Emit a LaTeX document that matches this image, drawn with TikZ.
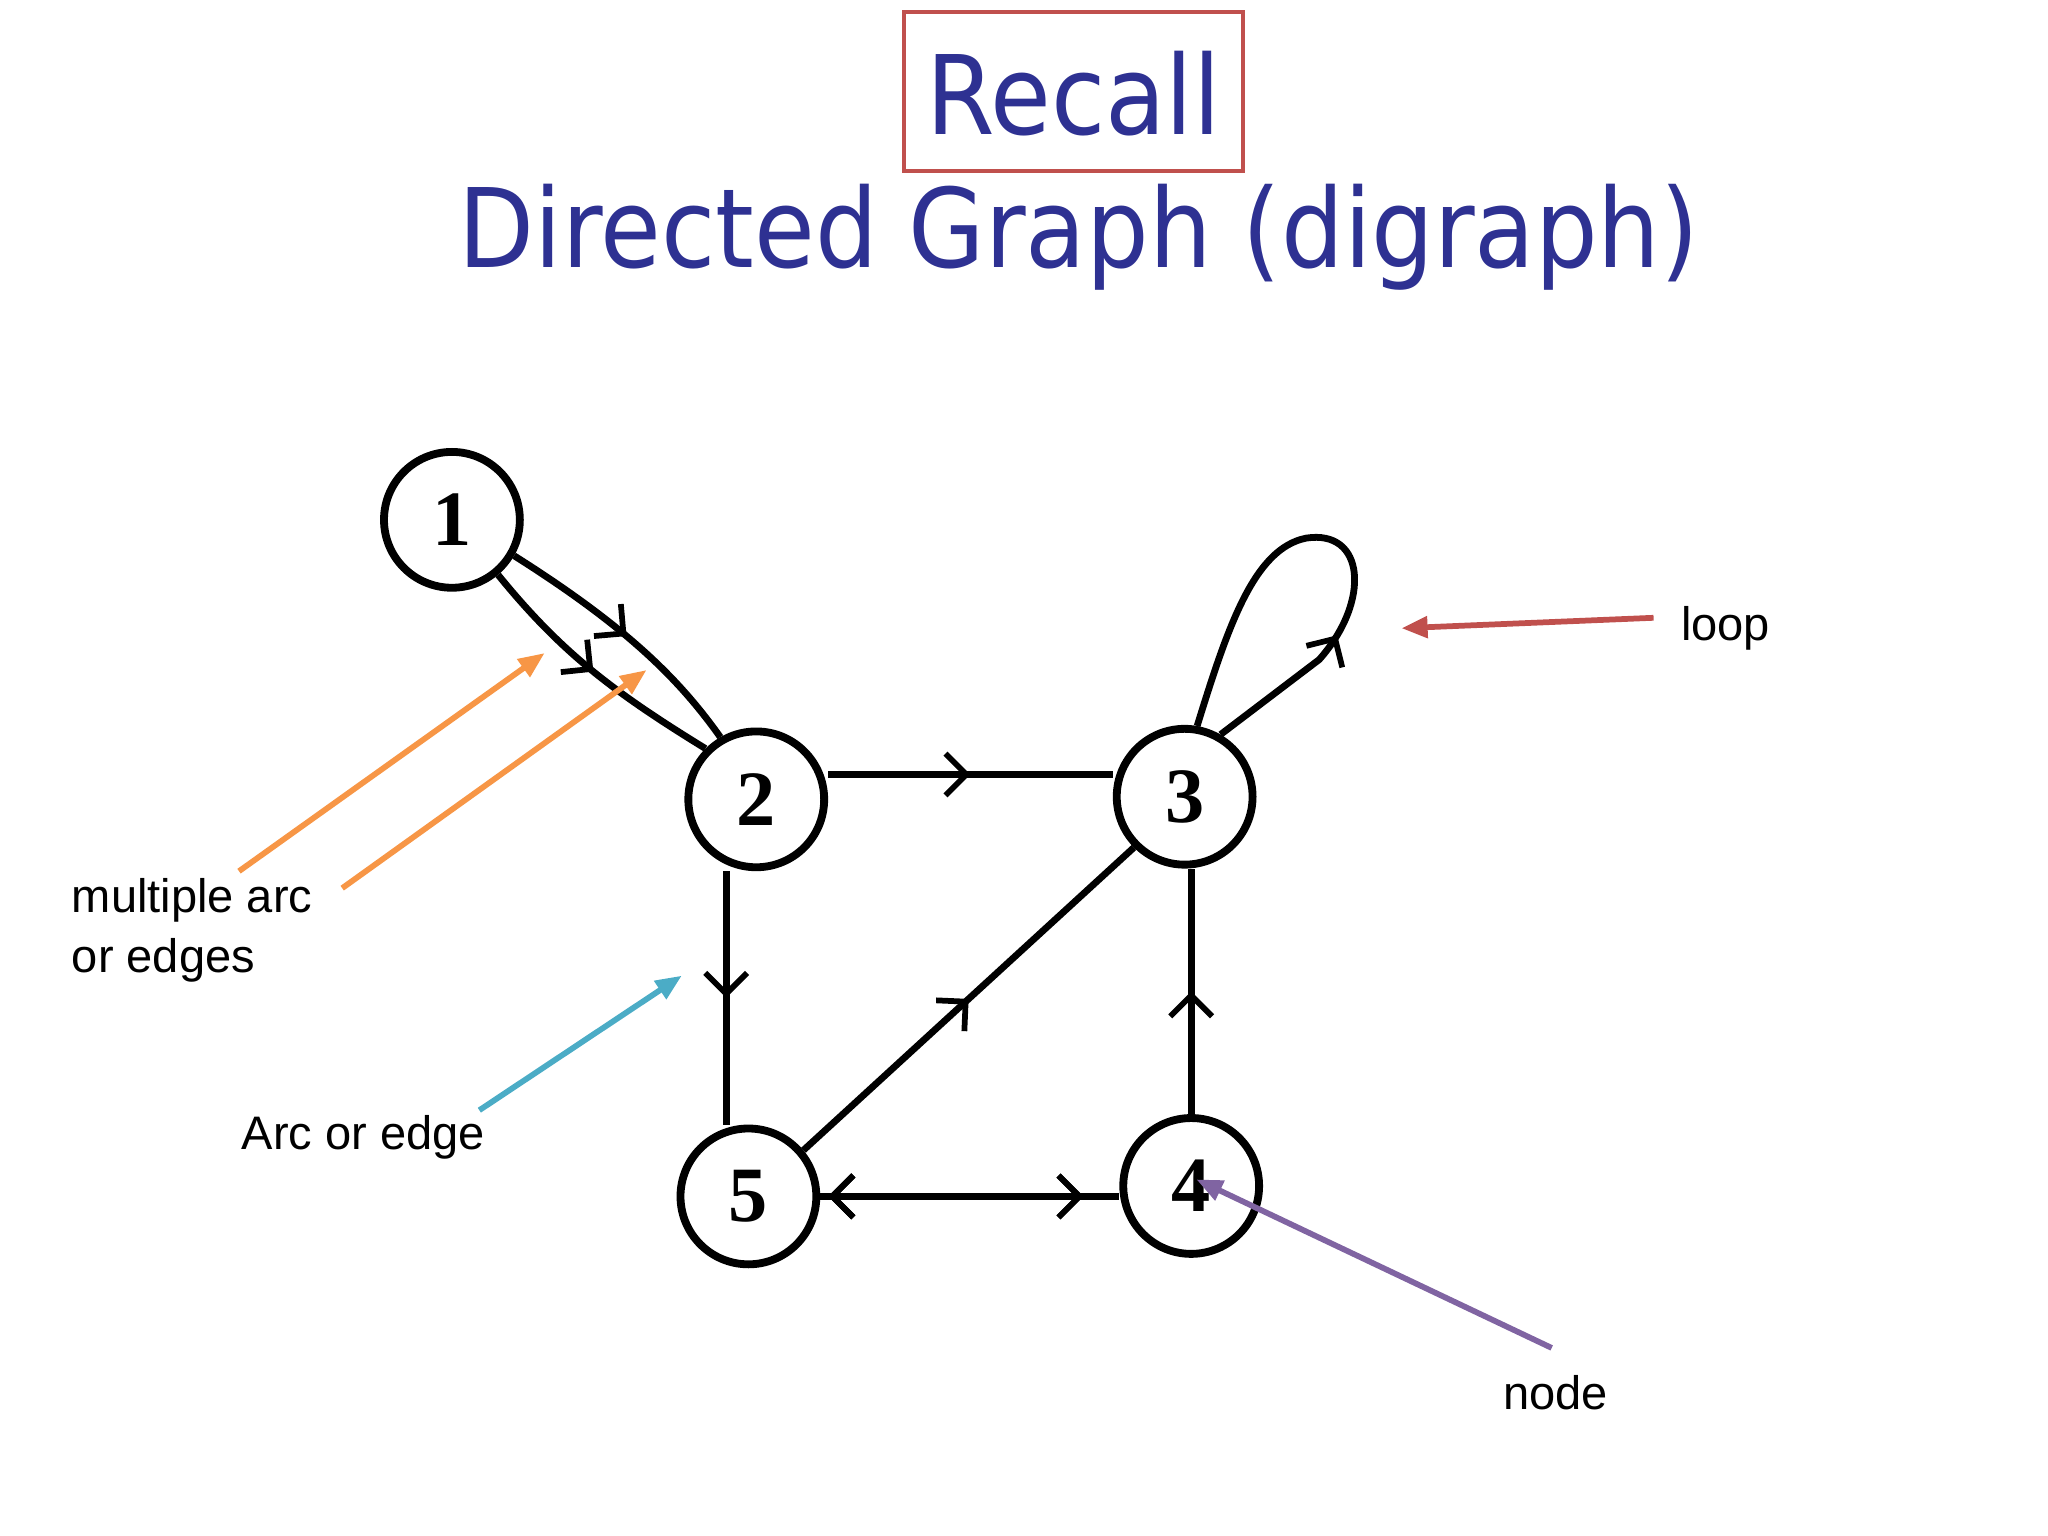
\documentclass[tikz,border=0pt]{standalone}
\usepackage{fontspec}
\setmainfont{Liberation Sans}
\newfontfamily\titlefont{DejaVu Sans Condensed}
\newfontfamily\numfont{Liberation Serif}
\usetikzlibrary{decorations.markings,arrows.meta}
\definecolor{navy}{RGB}{46,49,146}
\definecolor{boxred}{RGB}{192,80,77}
\definecolor{orng}{RGB}{247,150,70}
\definecolor{tealc}{RGB}{75,172,198}
\definecolor{purp}{RGB}{128,100,162}
\tikzset{
  vert/.style={circle,draw,line width=3pt,minimum size=52pt,inner sep=0pt,font=\numfont\bfseries\fontsize{30}{30}\selectfont},
  edge/.style={line width=2.6pt},
  mark at/.style={postaction={decorate},decoration={markings,mark=at position #1 with {\arrow[line width=2.2pt]{Straight Barb[length=8pt,width=16pt]}}}},
  mark back at/.style={postaction={decorate},decoration={markings,mark=at position #1 with {\arrow[line width=2.2pt]{Straight Barb[reversed,length=8pt,width=16pt]}}}},
  note/.style={line width=2.2pt,-{Triangle[length=10pt,width=8pt]}},
  lbl/.style={anchor=west,font=\fontsize{18}{23}\selectfont,align=left}
}
\begin{document}
\begin{tikzpicture}[x=0.5pt,y=-0.5pt]
\useasboundingbox (0,0) rectangle (1568,1176);
% title
\draw[boxred,line width=1.5pt] (692,9) rectangle (952,131);
\node[text=navy,font=\titlefont\fontsize{42}{42}\selectfont] (t1) at (822,72) {Recall};
\node[text=navy,font=\titlefont\fontsize{42}{42}\selectfont] (t2) at (826,182) {Directed Graph (digraph)};
% vertices
\node[vert] (n1) at (346,398) {1};
\node[vert] (n2) at (579,612) {2};
\node[vert] (n3) at (907,610) {3};
\node[vert] (n4) at (912,908) {4};
\node[vert] (n5) at (573,916) {5};
% edges
\draw[edge,mark at=0.5] (n1.-30) .. controls (480,480) and (520,520) .. (n2.120);
\draw[edge,mark at=0.5] (n1.-50) .. controls (430,500) and (470,530) .. (n2.135);
\draw[edge,mark at=0.5] (n2.east |- 0,593) -- (n3.west |- 0,593);
\draw[edge,mark at=0.5] (n2.south -| 556,0) -- (n5.north -| 556,0);
\draw[edge,mark at=0.5] (n5.40) -- (n3.-135);
\draw[edge,mark at=0.5] (n4.north -| 912,0) -- (n3.south -| 912,0);
\draw[edge,mark back at=0.12,mark at=0.88] (n5.east |- 0,916) -- (n4.west |- 0,916);
\path[mark back at=0.12] (n5.east |- 0,916) -- (n4.west |- 0,916);
\draw[edge,mark at=0.3] (n3.60) -- (1010,505)
  .. controls (1050,460) and (1045,405) .. (1000,412)
  .. controls (960,420) and (940,480) .. (n3.80);
% annotations
\draw[note,orng] (183,667) -- (417,500);
\draw[note,orng] (262,680) -- (495,513);
\draw[note,tealc] (367,850) -- (522,747);
\draw[note,boxred] (1266,473) -- (1073,481);
\draw[note,purp] (1188,1032) -- (916,903);
\node[lbl] (l1) at (48,712) {multiple arc\\or edges};
\node[lbl] (l2) at (178,871) {Arc or edge};
\node[lbl] (l3) at (1280,481) {loop};
\node[lbl] (l4) at (1144,1066) {node};
\end{tikzpicture}
\end{document}
